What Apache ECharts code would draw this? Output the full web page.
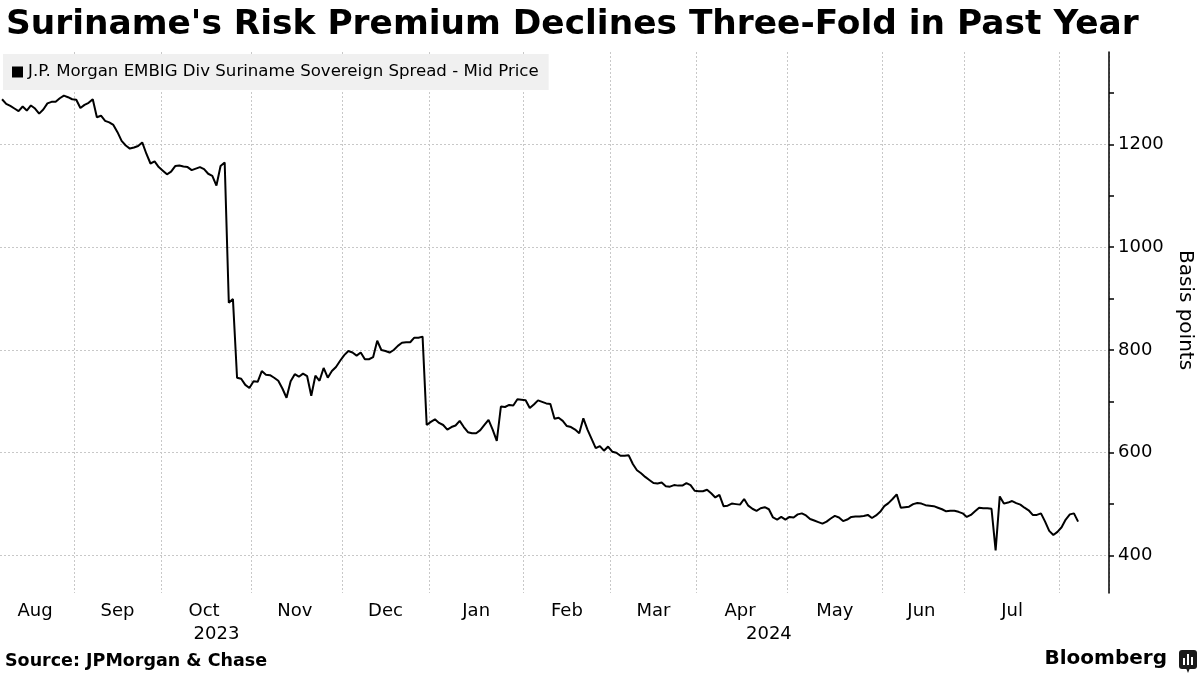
<!DOCTYPE html>
<html>
<head>
<meta charset="utf-8">
<title>Suriname's Risk Premium</title>
<script src="https://cdn.jsdelivr.net/npm/echarts@6/dist/echarts.min.js"></script>
<style>
  html, body { margin: 0; padding: 0; background: #fff; }
  #chart { width: 1200px; height: 675px; }
</style>
</head>
<body>
<div id="chart"></div>
<script>
// trading days (weekdays) from 8 Aug 2023, with a few empty days after the last value
var startDay = '2023-08-08';
var dayCount = 269;

var monthNames = ['Jan','Feb','Mar','Apr','May','Jun','Jul','Aug','Sep','Oct','Nov','Dec'];
var labelledMonths = ['2023-08','2023-09','2023-10','2023-11','2023-12','2024-01',
                      '2024-02','2024-03','2024-04','2024-05','2024-06','2024-07'];
var yearLabels = ['2023', '2024'];
var tickValues = [400, 500, 600, 700, 800, 900, 1000, 1100, 1200, 1300];

// J.P. Morgan EMBIG Div Suriname Sovereign Spread - Mid Price (bp), one per trading day
var spread = [
  1288,1279,1275,1270,1265,1274,1266,1276,1270,1260,
  1268,1280,1283,1283,1290,1295,1292,1288,1287,1271,
  1277,1281,1288,1253,1256,1246,1243,1238,1224,1207,
  1198,1192,1194,1197,1204,1182,1163,1167,1156,1149,
  1142,1147,1158,1159,1157,1156,1150,1153,1156,1152,
  1143,1139,1120,1158,1165, 892, 899, 746, 744, 732,
   726, 739, 738, 759, 752, 751, 746, 740, 725, 707,
   739, 753, 748, 754, 749, 711, 750, 740, 765, 746,
   759, 767, 779, 790, 798, 795, 789, 795, 782, 782,
   786, 818, 800, 798, 795, 800, 808, 814, 815, 815,
   824, 824, 826, 654, 660, 665, 658, 654, 645, 650,
   653, 662, 650, 640, 638, 638, 644, 654, 664, 645,
   623, 690, 689, 693, 692, 704, 703, 702, 687, 694,
   702, 699, 696, 695, 666, 668, 662, 652, 650, 645,
   638, 667, 645, 627, 609, 613, 604, 612, 602, 600,
   594, 594, 595, 578, 566, 560, 553, 547, 541, 540,
   542, 535, 534, 537, 536, 536, 541, 537, 526, 525,
   525, 528, 521, 513, 518, 496, 497, 501, 500, 499,
   510, 497, 491, 487, 492, 494, 490, 474, 470, 475,
   470, 475, 474, 480, 482, 478, 471, 468, 465, 462,
   466, 472, 477, 474, 467, 470, 475, 476, 476, 477,
   479, 473, 478, 485, 496, 502, 510, 519, 493, 494,
   495, 500, 502, 501, 498, 497, 496, 493, 490, 486,
   487, 487, 485, 482, 475, 479, 486, 493, 492, 492,
   491, 410, 515, 501, 503, 506, 502, 499, 493, 488,
   479, 479, 482, 466, 448, 440, 446, 455, 470, 480,
   482, 466
];

var days = [];
var d = new Date(startDay + 'T00:00:00Z');
while (days.length < dayCount) {
    var wd = d.getUTCDay();
    if (wd !== 0 && wd !== 6) days.push(d.toISOString().slice(0, 10));
    d.setUTCDate(d.getUTCDate() + 1);
}

// month spans -> gridline at first day, label at the middle
var monthStart = {}, monthLabelAt = {}, yearLabelAt = {};
var spans = {}, yearSpans = {};
days.forEach(function (day, i) {
    var m = day.slice(0, 7), y = day.slice(0, 4);
    if (!spans[m]) { spans[m] = [i, i]; if (i > 0) monthStart[i] = true; }
    spans[m][1] = i;
    if (!yearSpans[y]) yearSpans[y] = [i, i];
    yearSpans[y][1] = i;
});
labelledMonths.forEach(function (m) {
    var s = spans[m];
    monthLabelAt[Math.floor((s[0] + s[1]) / 2)] = monthNames[+m.slice(5, 7) - 1];
});
yearLabels.forEach(function (y) {
    var s = yearSpans[y];
    yearLabelAt[Math.floor((s[0] + s[1] + 1) / 2)] = y;
});

var font = 'DejaVu Sans';
var gridColor = '#c8c8c8';

var chart = echarts.init(document.getElementById('chart'));
chart.setOption({
    animation: false,
    backgroundColor: '#fff',
    textStyle: { fontFamily: font, color: '#000' },
    title: {
        text: "Suriname's Risk Premium Declines Three-Fold in Past Year",
        left: 1,
        top: 3,
        textStyle: { fontFamily: font, fontWeight: 'bold', fontSize: 34.4, color: '#000' }
    },
    legend: {
        data: ['J.P. Morgan EMBIG Div Suriname Sovereign Spread - Mid Price'],
        left: 3,
        top: 54,
        icon: 'rect',
        itemWidth: 11,
        itemHeight: 11,
        itemGap: 5,
        padding: [9, 10, 9, 9],
        backgroundColor: '#f0f0f0',
        selectedMode: false,
        textStyle: { fontFamily: font, fontSize: 16.6, color: '#000', lineHeight: 18 }
    },
    grid: { left: 0, right: 91, top: 52, bottom: 82, outerBoundsMode: 'none' },
    xAxis: [
        {
            type: 'category',
            data: days,
            boundaryGap: true,
            axisLine: { show: false },
            axisTick: { show: false },
            axisLabel: {
                interval: function (i) { return monthLabelAt[i] !== undefined; },
                formatter: function (v, i) { return monthLabelAt[i] || ''; },
                fontSize: 18,
                color: '#000',
                margin: 9
            },
            splitLine: {
                show: true,
                interval: function (i) { return monthStart[i] === true; },
                lineStyle: { color: gridColor, type: [2, 2], width: 1 }
            }
        },
        {
            type: 'category',
            data: days,
            boundaryGap: true,
            position: 'bottom',
            axisLine: { show: false },
            axisTick: { show: false },
            splitLine: { show: false },
            axisLabel: {
                interval: function (i) { return yearLabelAt[i] !== undefined; },
                formatter: function (v, i) { return yearLabelAt[i] || ''; },
                fontSize: 18,
                color: '#000',
                margin: 32
            }
        }
    ],
    yAxis: [
        {
            type: 'value',
            position: 'right',
            min: 327,
            max: 1380,
            splitNumber: 5,
            axisLine: { show: true, lineStyle: { color: '#000', width: 1.5 } },
            axisTick: { show: false },
            axisLabel: {
                fontSize: 18, color: '#000', margin: 9,
                showMinLabel: false, showMaxLabel: false,
                formatter: function (v) { return String(v); }
            },
            splitLine: {
                show: true,
                showMinLine: false,
                showMaxLine: false,
                lineStyle: { color: gridColor, type: [2, 2], width: 1 }
            }
        },
        {
            type: 'value',
            position: 'right',
            min: 327,
            max: 1380,
            splitNumber: 10,
            axisLine: { show: false },
            axisTick: {
                show: true, length: 5, customValues: tickValues,
                lineStyle: { color: '#000', width: 1.5 }
            },
            axisLabel: { show: false },
            splitLine: { show: false }
        }
    ],
    series: [
        {
            name: 'J.P. Morgan EMBIG Div Suriname Sovereign Spread - Mid Price',
            type: 'line',
            data: spread,
            showSymbol: false,
            color: '#000',
            lineStyle: { color: '#000', width: 2 },
            silent: true
        }
    ],
    graphic: [
        {
            type: 'text',
            x: 1185,
            y: 310,
            rotation: -Math.PI / 2,
            style: {
                text: 'Basis points', font: '20px "DejaVu Sans"', fill: '#000',
                align: 'center', verticalAlign: 'middle'
            }
        },
        {
            type: 'text',
            left: 5,
            top: 652,
            style: { text: 'Source: JPMorgan & Chase', font: 'bold 17.5px "DejaVu Sans"', fill: '#000' }
        },
        {
            type: 'text',
            right: 33,
            top: 649,
            style: { text: 'Bloomberg', font: 'bold 20px "DejaVu Sans"', fill: '#000' }
        },
        {
            type: 'group',
            right: 3,
            top: 650,
            children: [
                { type: 'rect', shape: { x: 0, y: 0, width: 18, height: 19, r: 3 }, style: { fill: '#1a1a1a' } },
                { type: 'polygon', shape: { points: [[7, 18], [11, 18], [9, 23]] }, style: { fill: '#1a1a1a' } },
                { type: 'rect', shape: { x: 4, y: 8, width: 2, height: 7 }, style: { fill: '#fff' } },
                { type: 'rect', shape: { x: 8, y: 4, width: 2, height: 11 }, style: { fill: '#fff' } },
                { type: 'rect', shape: { x: 12, y: 7, width: 2, height: 8 }, style: { fill: '#fff' } }
            ]
        }
    ]
});
</script>
</body>
</html>
